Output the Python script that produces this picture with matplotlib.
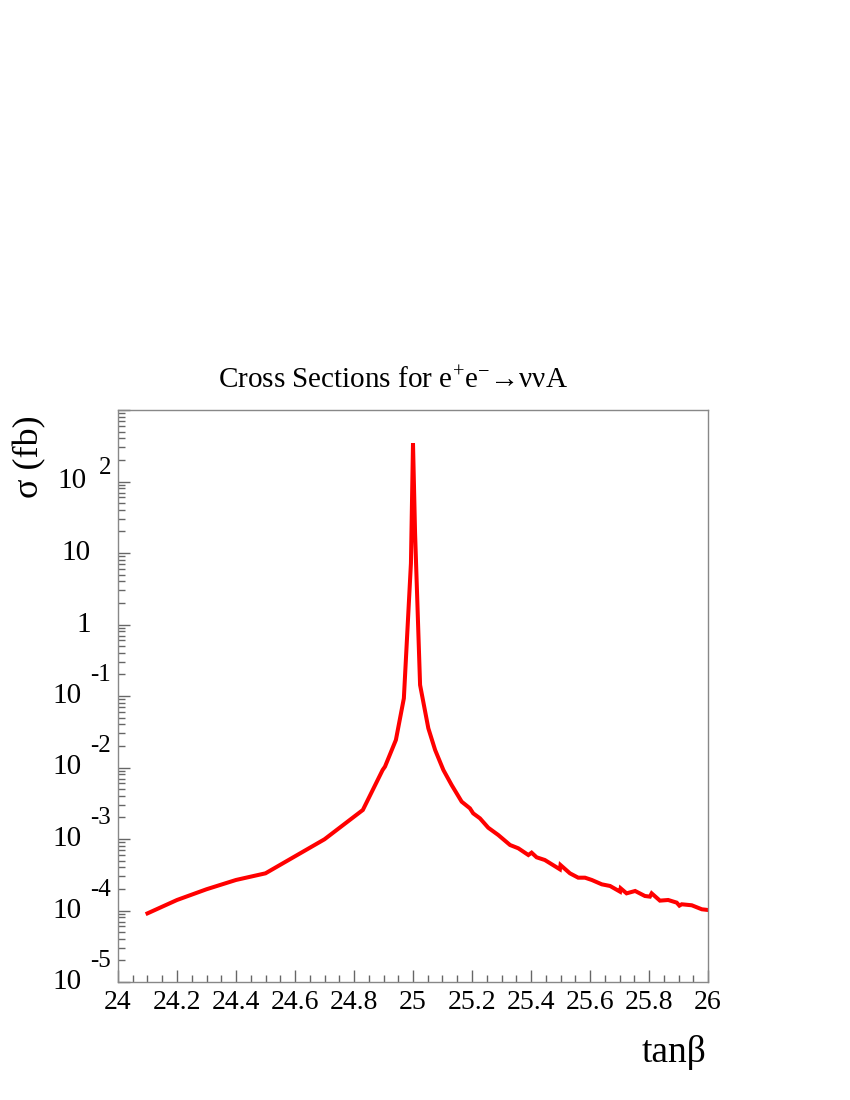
import matplotlib
matplotlib.use("Agg")
import matplotlib.pyplot as plt
from matplotlib.ticker import FixedLocator, MultipleLocator, LogLocator, NullFormatter
import numpy as np

plt.rcParams['font.family'] = ['Liberation Serif', 'DejaVu Serif']
plt.rcParams['mathtext.fontset'] = 'custom'
plt.rcParams['mathtext.rm'] = 'Liberation Serif'
plt.rcParams['mathtext.it'] = 'Liberation Serif:italic'
plt.rcParams['mathtext.bf'] = 'Liberation Serif:bold'

# data
tanb = [24.10, 24.20, 24.30, 24.40, 24.50, 24.70, 24.83, 24.897, 24.905, 24.942, 24.969,
        24.993, 25.000, 25.007, 25.024, 25.052, 25.075, 25.103, 25.131, 25.165, 25.193,
        25.204, 25.227, 25.255, 25.289, 25.329, 25.357, 25.391, 25.402, 25.419, 25.447,
        25.498, 25.500, 25.532, 25.560, 25.583, 25.606, 25.640, 25.668, 25.702, 25.704,
        25.724, 25.753, 25.786, 25.803, 25.809, 25.837, 25.865, 25.894, 25.903, 25.911,
        25.945, 25.979, 26.000]
log_sigma = [-4.04, -3.853, -3.703, -3.573, -3.48, -3.004, -2.594, -2.035, -1.988, -1.615, -1.033,
             0.856, 2.534, 1.28, -0.846, -1.452, -1.755, -2.035, -2.245, -2.478, -2.571,
             -2.641, -2.711, -2.842, -2.944, -3.084, -3.130, -3.224, -3.191, -3.256, -3.294,
             -3.424, -3.364, -3.48, -3.541, -3.541, -3.573, -3.634, -3.657, -3.737, -3.69,
             -3.76, -3.727, -3.797, -3.806, -3.76, -3.862, -3.853, -3.89, -3.932, -3.913,
             -3.927, -3.983, -3.993]
sigma = [10 ** v for v in log_sigma]

ytick_vals = [1e-5, 1e-4, 1e-3, 1e-2, 1e-1, 1, 10, 1e2]
ytick_base = ['10', '10', '10', '10', '10', '1', '10', '10']
ytick_exp = ['-5', '-4', '-3', '-2', '-1', '', '', '2']
xtick_vals = [24, 24.2, 24.4, 24.6, 24.8, 25, 25.2, 25.4, 25.6, 25.8, 26]
xtick_labels = ['24', '24.2', '24.4', '24.6', '24.8', '25', '25.2', '25.4', '25.6', '25.8', '26']

fig = plt.figure(figsize=(8.5, 11), dpi=100)
ax = fig.add_axes([118/850, 1-982/1100, 590/850, 572/1100])
ax.plot(tanb, sigma, color='#ff0000', lw=2.9, solid_joinstyle='miter')
ax.set_yscale('log')
ax.set_xlim(24, 26)
ax.set_ylim(1e-5, 1e3)

ax.xaxis.set_major_locator(FixedLocator(xtick_vals))
ax.set_xticklabels(xtick_labels)
ax.xaxis.set_minor_locator(MultipleLocator(0.05))
ax.yaxis.set_major_locator(FixedLocator(ytick_vals + [1e3]))
ax.yaxis.set_major_formatter(NullFormatter())
ax.yaxis.set_minor_locator(LogLocator(base=10, subs=np.arange(2, 10)))
ax.yaxis.set_minor_formatter(NullFormatter())

# ROOT-style y labels: base and raised exponent
for val, base, ex in zip(ytick_vals, ytick_base, ytick_exp):
    if ex == '':
        bx = -27
    elif ex.startswith('-'):
        bx = -36
    else:
        bx = -31
    ax.annotate(base, xy=(0, val), xycoords=('axes fraction', 'data'),
                xytext=(bx, 0), textcoords='offset pixels',
                ha='right', va='center', fontsize=21, annotation_clip=False)
    if ex:
        ey = 21 if ex.startswith('-') else 13
        ax.annotate(ex, xy=(0, val), xycoords=('axes fraction', 'data'),
                    xytext=(-7, ey), textcoords='offset pixels',
                    ha='right', va='center', fontsize=18, annotation_clip=False)

for s in ax.spines.values():
    s.set_color('#888888')
    s.set_linewidth(1.0)
ax.tick_params(axis='both', which='both', direction='in', color='#666666', top=False, right=False)
ax.tick_params(axis='both', which='major', length=8.6, width=1.0, labelsize=20)
ax.tick_params(axis='both', which='minor', length=5, width=1.0)
ax.tick_params(axis='x', which='major', pad=6)

fig.text(393/850, 1-381/1100, r'Cross Sections for e$^{+}$e$^{-}$→ννA',
         ha='center', va='center', fontsize=21)
fig.text(30/850, 1-457/1100, 'σ (fb)', rotation=90, ha='center', va='center', fontsize=26)
fig.text(674/850, 1-1053/1100, 'tanβ', ha='center', va='center', fontsize=27)

fig.savefig('out.png', dpi=100)
